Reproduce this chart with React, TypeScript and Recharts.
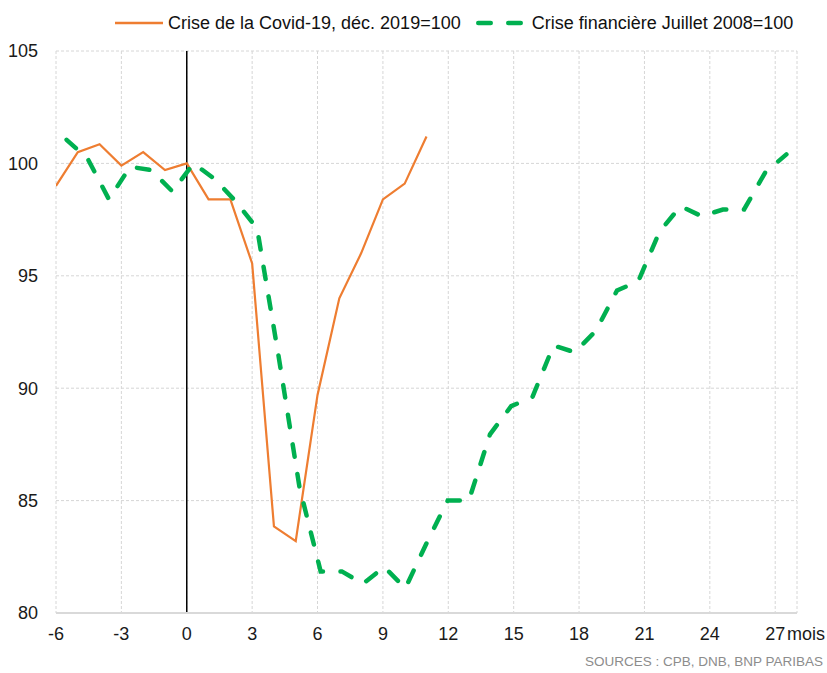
import { CartesianGrid, Label, Legend, Line, LineChart, ReferenceLine, XAxis, YAxis } from "recharts";

const FONT = '"Liberation Sans", Arial, sans-serif';
const ORANGE = "#ee7d31";
const GREEN = "#00b050";

// months since the start of each crisis
const covidMonths = [-6, -5, -4, -3, -2, -1, 0, 1, 2, 3, 4, 5, 6, 7, 8, 9, 10, 11];
const covidValues = [
  99.0, 100.5, 100.85, 99.9, 100.5, 99.7, 100.0, 98.4, 98.4, 95.55, 83.85, 83.2, 89.7, 94.0, 96.0,
  98.4, 99.1, 101.2
];

// financial crisis series, 35 monthly points spread over its own category axis
const crisisValues = [
  101.05, 100.2, 98.4, 99.85, 99.7, 98.75, 100.0, 99.3, 98.3, 97.1, 91.5, 85.6, 81.85, 81.85, 81.3,
  82.05, 81.1, 83.1, 85.0, 85.0, 87.95, 89.2, 89.6, 91.9, 91.6, 92.55, 94.35, 94.75, 96.95, 98.1,
  97.65, 97.95, 97.95, 99.6, 100.4
];

const monthTicks = [-6, -3, 0, 3, 6, 9, 12, 15, 18, 21, 24, 27];
const indexTicks = [80, 85, 90, 95, 100, 105];

const covidData = covidMonths.map((m, i) => ({ m, v: covidValues[i] }));
const crisisData = crisisValues.map((v, i) => ({ i, v }));

const LegendContent = () => (
  <div
    style={{
      display: "flex",
      alignItems: "center",
      height: 24,
      lineHeight: "24px",
      marginLeft: 115,
      fontFamily: FONT,
      fontSize: 18,
      color: "#111"
    }}
  >
    <svg width={48} height={10}>
      <line x1={0} y1={5} x2={48} y2={5} stroke={ORANGE} strokeWidth={2.5} />
    </svg>
    <span style={{ marginLeft: 5, whiteSpace: "nowrap" }}>Crise de la Covid-19, déc. 2019=100</span>
    <svg width={48} height={10} style={{ marginLeft: 15 }}>
      <line
        x1={2.25}
        y1={5}
        x2={45}
        y2={5}
        stroke={GREEN}
        strokeWidth={4.5}
        strokeLinecap="round"
        strokeDasharray="12.5 17.5"
      />
    </svg>
    <span style={{ marginLeft: 8, whiteSpace: "nowrap" }}>Crise financière Juillet 2008=100</span>
  </div>
);

const MoisLabel = (props: any) => {
  const vb = props.viewBox;
  return (
    <text x={vb.x + vb.width - 10} y={vb.y + 14} dy="0.71em" fill="#1a1a1a" fontSize={18} fontFamily={FONT}>
      mois
    </text>
  );
};

export default function App() {
  return (
    <div style={{ position: "absolute", left: 0, top: 0, width: 827, height: 673, background: "#fff" }}>
      <LineChart width={827} height={673} margin={{ top: 11, right: 30, bottom: 0, left: 0 }}>
        <CartesianGrid stroke="#d6d6d6" strokeDasharray="3 2" />
        <XAxis
          dataKey="m"
          type="number"
          domain={[-6, 28]}
          ticks={monthTicks}
          interval={0}
          allowDataOverflow
          height={60}
          tickLine={false}
          tickSize={0}
          tickMargin={14}
          axisLine={{ stroke: "#d9d9d9", strokeWidth: 2 }}
          tick={{ fill: "#1a1a1a", fontSize: 18, fontFamily: FONT }}
        >
          <Label content={MoisLabel} />
        </XAxis>
        <XAxis
          xAxisId="g"
          dataKey="i"
          type="category"
          hide
          padding={{ left: 10.6, right: 10.6 }}
        />
        <YAxis
          domain={[80, 105]}
          ticks={indexTicks}
          width={56}
          axisLine={false}
          tickLine={false}
          tickSize={0}
          tickMargin={18}
          tick={{ fill: "#1a1a1a", fontSize: 18, fontFamily: FONT }}
        />
        <Legend
          verticalAlign="top"
          content={LegendContent}
          wrapperStyle={{ top: 11, left: 0, width: 827, height: 40 }}
        />
        <ReferenceLine x={0} stroke="#000" strokeWidth={1.5} />
        <Line
          data={covidData}
          dataKey="v"
          name="Crise de la Covid-19, déc. 2019=100"
          stroke={ORANGE}
          strokeWidth={2.2}
          dot={false}
          activeDot={false}
          isAnimationActive={false}
        />
        <Line
          data={crisisData}
          xAxisId="g"
          dataKey="v"
          name="Crise financière Juillet 2008=100"
          stroke={GREEN}
          strokeWidth={4.5}
          strokeLinecap="round"
          strokeDasharray="12.5 17.5"
          dot={false}
          activeDot={false}
          isAnimationActive={false}
        />
      </LineChart>
      <div
        style={{
          position: "absolute",
          right: 4,
          top: 654,
          fontFamily: FONT,
          fontSize: 13.5,
          lineHeight: "16px",
          color: "#8c8c8c",
          whiteSpace: "nowrap"
        }}
      >
        SOURCES : CPB, DNB, BNP PARIBAS
      </div>
    </div>
  );
}
